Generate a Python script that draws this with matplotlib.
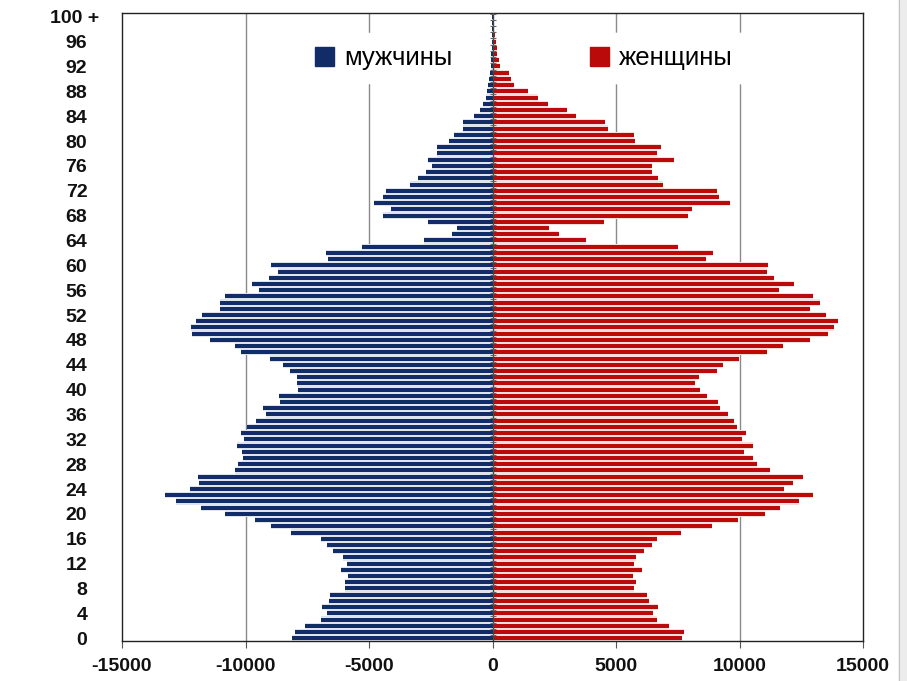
import matplotlib
matplotlib.use("Agg")
import matplotlib.pyplot as plt
import matplotlib.patches as mpatches
import matplotlib.transforms as mtransforms
import numpy as np

ages = list(range(0, 101))
men = [-8130, -7995, -7590, -6950, -6720, -6885, -6620, -6590, -5980, -5980,
       -5870, -6115, -5910, -6035, -6455, -6720, -6950, -8170, -8980, -9630,
       -10830, -11790, -12830, -13260, -12260, -11880, -11920, -10425, -10300, -10100,
       -10125, -10330, -10060, -10165, -9950, -9590, -9180, -9290, -8615, -8640,
       -7870, -7900, -7900, -8200, -8465, -9010, -10165, -10420, -11450, -12180,
       -12220, -11990, -11780, -11030, -11030, -10840, -9450, -9745, -9045, -8680,
       -8980, -6680, -6750, -5300, -2770, -1650, -1445, -2610, -4450, -4120,
       -4790, -4450, -4320, -3340, -3000, -2700, -2460, -2610, -2230, -2255,
       -1755, -1555, -1175, -1175, -745, -500, -365, -250, -220, -180,
       -140, -100, -70, -60, -50, -40, -30, -25, -20, -15, -15]
women = [7655, 7735, 7150, 6640, 6480, 6720, 6340, 6250, 5735, 5815,
         5670, 6045, 5710, 5815, 6140, 6440, 6680, 7625, 8880, 9920,
         11040, 11635, 12390, 12960, 11810, 12150, 12580, 11240, 10690, 10530,
         10190, 10555, 10100, 10260, 9880, 9785, 9540, 9220, 9110, 8680,
         8410, 8205, 8370, 9070, 9315, 9990, 11110, 11770, 12860, 13590,
         13835, 13970, 13500, 12860, 13255, 12985, 11580, 12190, 11405, 11110,
         11160, 8640, 8935, 7490, 3780, 2710, 2280, 4495, 7920, 8060,
         9620, 9150, 9070, 6885, 6720, 6450, 6440, 7330, 6680, 6815,
         5775, 5710, 4680, 4550, 3400, 3010, 2230, 1850, 1420, 875,
         740, 675, 310, 270, 175, 175, 135, 95, 65, 50, 50]
ytick_vals = list(range(0, 101, 4))
ytick_labels = [str(v) for v in range(0, 97, 4)] + ["100 +"]
xtick_vals = [-15000, -10000, -5000, 0, 5000, 10000, 15000]
legend_labels = ["мужчины", "женщины"]

BLUE = "#112c66"
RED = "#bb0a0a"

fig = plt.figure(figsize=(9.07, 6.81), dpi=100)
ax = fig.add_axes([122/907, 1-641/681, (863-122)/907, (641-13)/681])

# faint halo (JPEG-like tint between bars)
ax.barh(ages, men, height=1.0, color="#dfe3ec", zorder=1, linewidth=0)
ax.barh(ages, women, height=1.0, color="#f8dede", zorder=1, linewidth=0)
ax.barh(ages, men, height=0.64, color=BLUE, zorder=3, linewidth=0)
ax.barh(ages, women, height=0.64, color=RED, zorder=3, linewidth=0)

ax.set_xlim(-15000, 15000)
ax.set_ylim(-0.45, 100.6)
ax.set_xticks(xtick_vals)
ax.set_xticklabels([str(v) for v in xtick_vals])
ax.set_yticks(ytick_vals)
ax.set_yticklabels(ytick_labels)

for v in xtick_vals[1:-1]:
    if v != 0:
        ax.axvline(v, color="#8a8a8a", linewidth=1.0, zorder=0)
ax.axvline(0, color="#444444", linewidth=1.0, zorder=4)
# small category tick marks on the zero axis
ax.plot([0]*len(ages), [a + 0.5 for a in ages], linestyle="none", marker="_",
        markersize=5, color="#666666", markeredgewidth=0.8, zorder=4)

for s in ax.spines.values():
    s.set_color("#222222")
    s.set_linewidth(1.0)

tick_family = ["Liberation Sans Narrow", "Liberation Sans", "DejaVu Sans"]
ax.tick_params(axis="x", length=5, width=0.8, color="#555555", pad=7)
ax.tick_params(axis="y", length=0, pad=25)
for lab in ax.get_xticklabels() + ax.get_yticklabels():
    lab.set_fontfamily(tick_family)
    lab.set_fontweight("bold")
    lab.set_fontsize(14)
    lab.set_color("#111111")
    lab.set_fontstretch("condensed")
ylabs = ax.get_yticklabels()
ylabs[-1].set_transform(ylabs[-1].get_transform() +
                        mtransforms.ScaledTranslation(12/100, 0, fig.dpi_scale_trans))

leg_font = {"family": ["Liberation Sans", "DejaVu Sans"], "size": 18.5}
h1 = mpatches.Patch(color=BLUE)
h2 = mpatches.Patch(color=RED)
for h, lab, xc in [(h1, legend_labels[0], 0.353), (h2, legend_labels[1], 0.728)]:
    leg = ax.legend([h], [lab], loc="center", bbox_to_anchor=(xc, 0.928),
                    prop=leg_font, frameon=True, fancybox=False, framealpha=1,
                    edgecolor="white", facecolor="white", handlelength=0.75,
                    handleheight=0.75, handletextpad=0.4, borderpad=0.5)
    leg.set_zorder(5)
    ax.add_artist(leg)

# right-hand page shadow
fig.patches.append(mpatches.Rectangle((899/907, 0), 1/907, 1, transform=fig.transFigure,
                                      color="#b8b8b8", zorder=0))
fig.patches.append(mpatches.Rectangle((900/907, 0), 7/907, 1, transform=fig.transFigure,
                                      color="#ececec", zorder=0))

fig.savefig("out.png", dpi=100)
